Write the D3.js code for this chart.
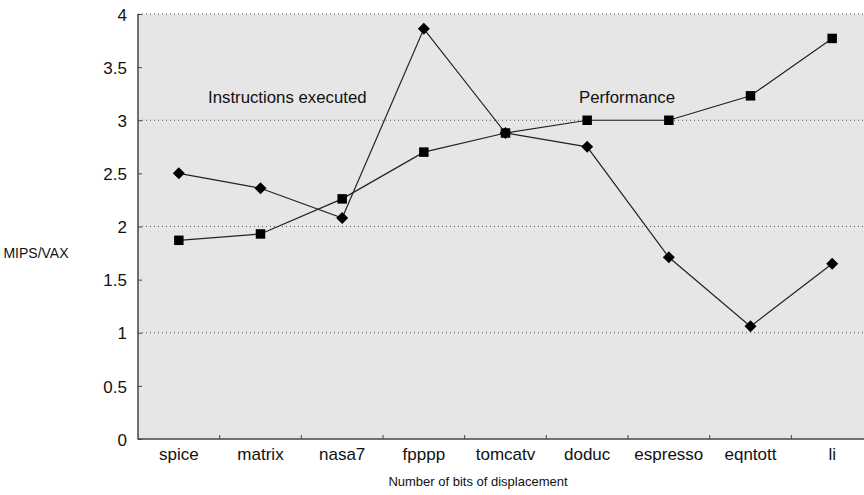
<!DOCTYPE html>
<html>
<head>
<meta charset="utf-8">
<script src="https://cdn.jsdelivr.net/npm/d3@7"></script>
<style>
  body { margin: 0; background: #fff; }
  text { font-family: "Liberation Sans", Arial, sans-serif; fill: #111; }
</style>
</head>
<body>
<div id="chart"></div>
<script>
// benchmarks along the x axis
var benchmarks = ["spice", "matrix", "nasa7", "fpppp", "tomcatv", "doduc", "espresso", "eqntott", "li"];
// "Instructions executed" (diamonds)
var instructions = [2.50, 2.36, 2.08, 3.86, 2.88, 2.75, 1.71, 1.06, 1.65];
// "Performance" (squares)
var performance = [1.87, 1.93, 2.26, 2.70, 2.88, 3.00, 3.00, 3.23, 3.77];
var yTicks = [0, 0.5, 1, 1.5, 2, 2.5, 3, 3.5, 4];
var gridTicks = [1, 2, 3, 4];

var params = {
    width: 864, height: 495,
    left: 138, right: 873, top: 14, bottom: 439
};

var svg = d3.select("#chart").append("svg")
    .attr("width", params.width)
    .attr("height", params.height);

var x = d3.scaleBand().domain(benchmarks).range([params.left, params.right]);
var y = d3.scaleLinear().domain([0, 4]).range([params.bottom, params.top]);

// grey plot background
svg.append("rect")
    .attr("x", params.left).attr("y", y(4))
    .attr("width", params.right - params.left)
    .attr("height", y(0) - y(4))
    .style("fill", "#e6e6e6");

// dotted grid lines
svg.selectAll(".grid")
    .data(gridTicks).enter()
    .append("line")
        .attr("class", "grid")
        .attr("x1", params.left).attr("x2", params.width)
        .attr("y1", function(d) { return y(d); })
        .attr("y2", function(d) { return y(d); })
        .style("stroke", "#555")
        .style("stroke-width", 1)
        .style("stroke-dasharray", "1,3");

// y axis, ticks pointing inward
var y_axis = d3.axisRight(y).tickValues(yTicks).tickSize(4)
    .tickFormat(function(d) { return String(d); });
var gy = svg.append("g")
    .attr("transform", "translate(" + params.left + ",0)")
    .call(y_axis);
gy.select(".domain").remove();
gy.selectAll(".tick line").style("stroke", "#444");
gy.selectAll(".tick text")
    .attr("x", -11).attr("dy", "0.36em")
    .style("text-anchor", "end")
    .style("font-size", "17px")
    .style("font-family", "Liberation Sans, Arial, sans-serif")
    .style("fill", "#111");
svg.append("line")
    .attr("x1", params.left).attr("x2", params.left)
    .attr("y1", y(4)).attr("y2", y(0) + 0.5)
    .style("stroke", "#444").style("stroke-width", 1.5);

// x axis, ticks on band edges pointing up
var gx = svg.append("g")
    .attr("transform", "translate(0," + params.bottom + ")");
gx.selectAll(".xtick")
    .data(benchmarks.slice(1)).enter()
    .append("line")
        .attr("x1", function(d) { return x(d); })
        .attr("x2", function(d) { return x(d); })
        .attr("y1", 0).attr("y2", -4)
        .style("stroke", "#444");
gx.selectAll(".xlabel")
    .data(benchmarks).enter()
    .append("text")
        .attr("x", function(d) { return x(d) + x.bandwidth() / 2; })
        .attr("y", 21)
        .style("text-anchor", "middle")
        .style("font-size", "17px")
        .text(function(d) { return d; });
svg.append("line")
    .attr("x1", params.left).attr("x2", params.width)
    .attr("y1", params.bottom).attr("y2", params.bottom)
    .style("stroke", "#444").style("stroke-width", 1.5);

// axis labels
svg.append("text")
    .attr("x", 36).attr("y", 258)
    .style("text-anchor", "middle")
    .style("font-size", "14px")
    .text("MIPS/VAX");
svg.append("text")
    .attr("x", 478).attr("y", 486)
    .style("text-anchor", "middle")
    .style("font-size", "13px")
    .text("Number of bits of displacement");

var line = d3.line()
    .x(function(d, i) { return x(benchmarks[i]) + x.bandwidth() / 2; })
    .y(function(d) { return y(d); });

function draw_series(values, rotate, size, cls) {
    svg.append("path")
        .datum(values)
        .attr("d", line)
        .style("fill", "none")
        .style("stroke", "#222")
        .style("stroke-width", 1.2);
    svg.selectAll("." + cls)
        .data(values).enter()
        .append("path")
            .attr("class", cls)
            .attr("transform", function(d, i) {
                return "translate(" + (x(benchmarks[i]) + x.bandwidth() / 2) + "," + y(d) + ") rotate(" + rotate + ")";
            })
            .attr("d", d3.symbol().type(d3.symbolSquare).size(size))
            .style("fill", "#000");
}

draw_series(performance, 0, 90, "sq");
draw_series(instructions, 45, 72, "dia");

// series labels
svg.append("text")
    .attr("x", 208).attr("y", 103)
    .style("font-size", "16.8px")
    .text("Instructions executed");
svg.append("text")
    .attr("x", 579).attr("y", 103)
    .style("font-size", "16.8px")
    .text("Performance");
</script>
</body>
</html>
